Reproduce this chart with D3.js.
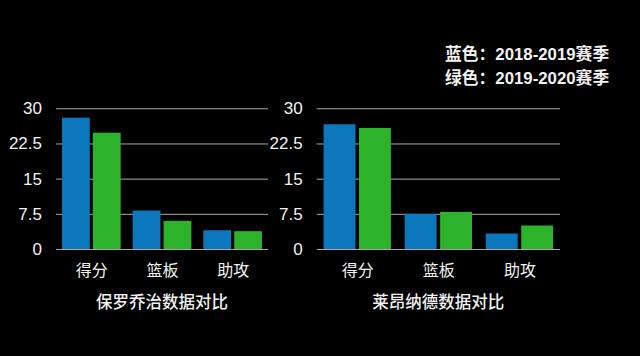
<!DOCTYPE html>
<html><head><meta charset="utf-8">
<script src="https://cdn.jsdelivr.net/npm/d3@7"></script>
<style>
html,body{margin:0;padding:0;background:#000;}
svg{display:block;}
</style></head>
<body>
<script>
const categories = ["得分", "篮板", "助攻"];
const seriesNames = ["2018-2019赛季", "2019-2020赛季"];
const georgeBlue = [28, 8.2, 4.0];
const georgeGreen = [24.8, 6.0, 3.8];
const leonardBlue = [26.6, 7.5, 3.3];
const leonardGreen = [25.8, 7.9, 5.0];
const yTicks = [0, 7.5, 15, 22.5, 30];
const chartTitles = ["保罗乔治数据对比", "莱昂纳德数据对比"];
const legendLabels = ["蓝色：2018-2019赛季", "绿色：2019-2020赛季"];

const W = 640, H = 356;
const colors = ["#0b77bd", "#2cb32b"];
const svg = d3.select("body").append("svg").attr("width", W).attr("height", H);
svg.append("rect").attr("width", W).attr("height", H).attr("fill", "#000");

const latin = "'Liberation Sans', Arial, sans-serif";
const cjk = "'Liberation Sans', 'Noto Sans CJK SC', sans-serif";

const y = d3.scaleLinear().domain([0, 30]).range([249, 108.3]);

function drawChart(x0, x1, blue, green, title) {
  const g = svg.append("g");
  const x = d3.scaleBand().domain(categories).range([x0, x1]).padding(0);
  const bw = x.bandwidth();
  const inner = d3.scaleBand().domain([0, 1]).range([bw * 0.085, bw * 0.915]).paddingInner(0.1);

  const axis = d3.axisLeft(y).tickValues(yTicks).tickFormat(d => String(d))
    .tickSizeInner(-(x1 - x0)).tickSizeOuter(0).tickPadding(14);
  const ag = g.append("g").attr("transform", `translate(${x0},0)`).call(axis);
  ag.select(".domain").remove();
  ag.selectAll(".tick line").attr("stroke", "#a8a8a8").attr("stroke-width", 1);
  ag.selectAll(".tick text").attr("fill", "#f2f2f2").attr("font-size", 17)
    .attr("font-family", latin);

  const rows = categories.map((c, i) => ({ c, v: [blue[i], green[i]] }));
  const grp = g.selectAll(".grp").data(rows).join("g")
    .attr("transform", d => `translate(${x(d.c)},0)`);
  grp.selectAll("rect").data(d => d.v).join("rect")
    .attr("x", (d, i) => inner(i))
    .attr("width", inner.bandwidth())
    .attr("y", d => y(d))
    .attr("height", d => y(0) - y(d))
    .attr("fill", (d, i) => colors[i]);

  g.selectAll(".cat").data(categories).join("text")
    .attr("x", d => x(d) + bw / 2 + 0.5)
    .attr("y", 276)
    .attr("text-anchor", "middle")
    .attr("fill", "#f2f2f2")
    .attr("font-size", 16)
    .attr("font-family", cjk)
    .text(d => d);

  g.append("text")
    .attr("x", (x0 + x1) / 2)
    .attr("y", 308)
    .attr("text-anchor", "middle")
    .attr("fill", "#f2f2f2")
    .attr("font-size", 16.5)
    .attr("font-weight", 500)
    .attr("font-family", cjk)
    .text(title);
}

drawChart(56, 268, georgeBlue, georgeGreen, chartTitles[0]);
drawChart(316.7, 560, leonardBlue, leonardGreen, chartTitles[1]);

svg.selectAll(".legend").data(legendLabels).join("text")
  .attr("x", 445)
  .attr("y", (d, i) => 60 + i * 23.5)
  .attr("fill", "#f2f2f2")
  .attr("font-size", 16.8)
  .attr("font-weight", "bold")
  .attr("font-family", cjk)
  .text(d => d);
</script>
</body></html>
